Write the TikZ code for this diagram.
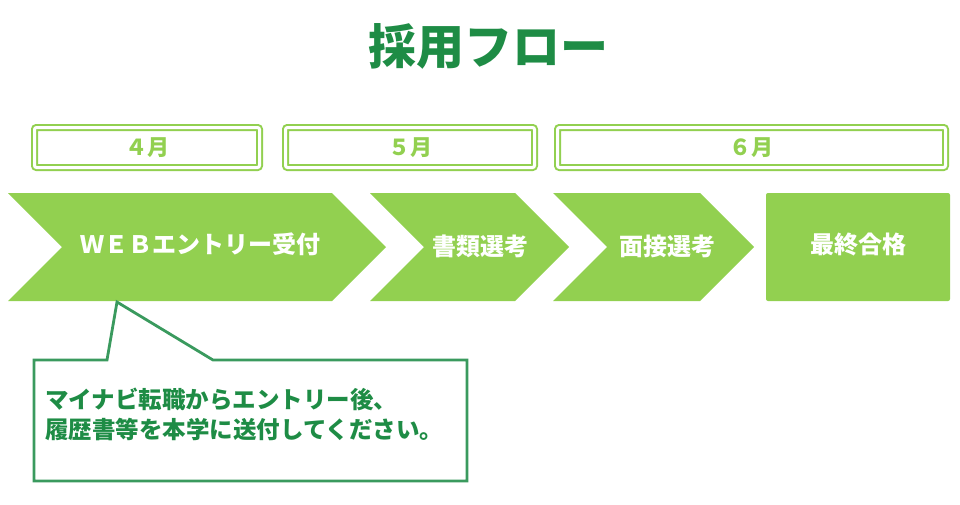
\documentclass[tikz,border=0pt]{standalone}
\usepackage{fontspec}
\setmainfont{Noto Sans CJK JP}
\definecolor{lightgrn}{HTML}{92D050}
\definecolor{darkgrn}{HTML}{1E8C45}
\definecolor{linegrn}{HTML}{3A9A5E}
\tikzset{
  month/.style={draw=lightgrn, line width=2pt, double=white, double distance=3pt,
    rounded corners=2pt, minimum height=40pt, inner sep=0pt, outer sep=0pt,
    text=lightgrn, font=\fontsize{22}{24}\selectfont\bfseries},
  chevtext/.style={text=white, font=\fontsize{24}{26}\selectfont\bfseries},
  notetext/.style={text=darkgrn, align=left, inner sep=0pt,
    font=\fontsize{23.5}{30}\selectfont\bfseries}
}
\begin{document}
\begin{tikzpicture}[x=1pt,y=-1pt]
    \useasboundingbox (0,0) rectangle (960,504);

    % Title
    \node[text=darkgrn, font=\fontsize{48}{52}\selectfont\bfseries] (title) at (488,46) {採用フロー};

    % Months
    \node[month, minimum width=225pt] (m4) at (147,147.5) {４月};
    \node[month, minimum width=249pt] (m5) at (410,147.5) {５月};
    \node[month, minimum width=388pt] (m6) at (751.5,147.5) {６月};

    % Chevrons
    \foreach \l/\r in {8/332, 370/515, 553/700}
        \fill[lightgrn] (\l,193) -- (\r,193) -- (\r+54,247) -- (\r,301) -- (\l,301) -- (\l+54,247) -- cycle;
    \fill[lightgrn, rounded corners=2pt] (766,193) rectangle (950,301);

    % Step labels
    \node[chevtext] (s1) at (200,244) {ＷＥＢエントリー受付};
    \node[chevtext] (s2) at (480,246) {書類選考};
    \node[chevtext] (s3) at (667,246) {面接選考};
    \node[chevtext] (s4) at (858,244) {最終合格};

    % Note
    \coordinate (tip) at (117,302);
    \draw[linegrn, line width=2.8pt] (107,360) -- (tip) -- (213,360) -- (467,360)
        -- (467,481) -- (34,481) -- (34,360) -- cycle;
    \node[notetext, anchor=north west] (note) at (45,388) {マイナビ転職からエントリー後、\\履歴書等を本学に送付してください。};
\end{tikzpicture}
\end{document}
